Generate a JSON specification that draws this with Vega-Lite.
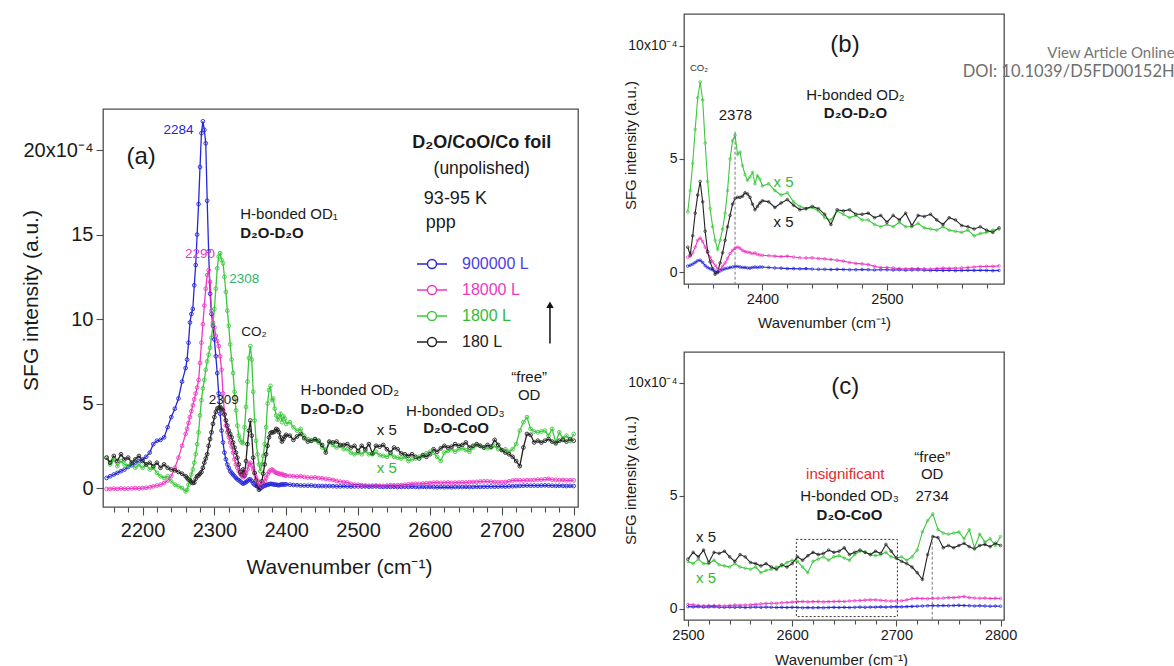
{
"$schema":"https://vega.github.io/schema/vega-lite/v6.json",
"background":"white",
"padding":{"left":19,"top":13,"right":0,"bottom":0},
"datasets":{"spec":[
{"w":2150,"900000 L":0.6,"18000 L":-0.05,"1800 L":1.8,"180 L":1.8},
{"w":2155,"900000 L":0.7,"18000 L":-0.05,"1800 L":1.4,"180 L":1.5},
{"w":2160,"900000 L":0.8,"18000 L":-0.03,"1800 L":1.7,"180 L":1.9},
{"w":2165,"900000 L":0.9,"18000 L":-0.05,"1800 L":1.3,"180 L":1.6},
{"w":2170,"900000 L":1.0,"18000 L":-0.02,"1800 L":1.6,"180 L":2.0},
{"w":2175,"900000 L":1.1,"18000 L":-0.04,"1800 L":1.4,"180 L":1.7},
{"w":2180,"900000 L":1.25,"18000 L":-0.03,"1800 L":1.3,"180 L":1.8},
{"w":2185,"900000 L":1.35,"18000 L":-0.02,"1800 L":1.5,"180 L":1.5},
{"w":2190,"900000 L":1.5,"18000 L":0.0,"1800 L":1.2,"180 L":1.7},
{"w":2195,"900000 L":1.6,"18000 L":-0.02,"1800 L":1.4,"180 L":1.9},
{"w":2200,"900000 L":1.7,"18000 L":0.0,"1800 L":1.2,"180 L":1.6},
{"w":2205,"900000 L":1.85,"18000 L":0.02,"1800 L":1.4,"180 L":1.4},
{"w":2210,"900000 L":2.1,"18000 L":0.05,"1800 L":1.1,"180 L":1.5},
{"w":2215,"900000 L":2.6,"18000 L":0.1,"1800 L":1.2,"180 L":1.3},
{"w":2220,"900000 L":2.8,"18000 L":0.15,"1800 L":0.9,"180 L":1.5},
{"w":2225,"900000 L":2.85,"18000 L":0.2,"1800 L":0.7,"180 L":1.2},
{"w":2230,"900000 L":3.0,"18000 L":0.3,"1800 L":0.6,"180 L":1.4},
{"w":2235,"900000 L":3.6,"18000 L":0.45,"1800 L":0.7,"180 L":1.2},
{"w":2240,"900000 L":4.2,"18000 L":0.7,"1800 L":0.4,"180 L":1.1},
{"w":2245,"900000 L":4.7,"18000 L":1.2,"1800 L":0.2,"180 L":1.05},
{"w":2250,"900000 L":5.3,"18000 L":1.8,"1800 L":0.1,"180 L":0.95},
{"w":2255,"900000 L":6.3,"18000 L":2.5,"1800 L":0.0,"180 L":0.85},
{"w":2260,"900000 L":7.1,"18000 L":3.2,"1800 L":-0.2,"180 L":0.7},
{"w":2262,"900000 L":7.6,"18000 L":3.5,"1800 L":-0.1,"180 L":0.6},
{"w":2264,"900000 L":8.6,"18000 L":3.85,"1800 L":0.2,"180 L":0.5},
{"w":2266,"900000 L":9.8,"18000 L":4.2,"1800 L":0.5,"180 L":0.45},
{"w":2268,"900000 L":10.3,"18000 L":4.55,"1800 L":0.8,"180 L":0.35},
{"w":2270,"900000 L":10.6,"18000 L":4.9,"1800 L":1.1,"180 L":0.3},
{"w":2272,"900000 L":12.0,"18000 L":5.25,"1800 L":1.5,"180 L":0.32},
{"w":2274,"900000 L":13.2,"18000 L":5.6,"1800 L":2.0,"180 L":0.55},
{"w":2276,"900000 L":15.0,"18000 L":5.95,"1800 L":2.6,"180 L":0.7},
{"w":2278,"900000 L":16.8,"18000 L":6.4,"1800 L":3.3,"180 L":0.75},
{"w":2280,"900000 L":19.0,"18000 L":7.4,"1800 L":4.3,"180 L":0.85},
{"w":2282,"900000 L":21.0,"18000 L":8.6,"1800 L":5.2,"180 L":0.95},
{"w":2284,"900000 L":21.7,"18000 L":9.7,"1800 L":5.9,"180 L":1.2},
{"w":2286,"900000 L":21.2,"18000 L":10.8,"1800 L":6.4,"180 L":1.5},
{"w":2288,"900000 L":20.4,"18000 L":11.8,"1800 L":7.0,"180 L":1.75},
{"w":2290,"900000 L":17.0,"18000 L":12.6,"1800 L":7.5,"180 L":2.0},
{"w":2292,"900000 L":14.0,"18000 L":12.9,"1800 L":7.9,"180 L":2.5},
{"w":2294,"900000 L":11.5,"18000 L":12.2,"1800 L":8.3,"180 L":2.9},
{"w":2296,"900000 L":10.3,"18000 L":10.5,"1800 L":8.9,"180 L":3.3},
{"w":2298,"900000 L":9.6,"18000 L":9.8,"1800 L":9.7,"180 L":3.8},
{"w":2300,"900000 L":8.8,"18000 L":9.5,"1800 L":10.6,"180 L":4.2},
{"w":2302,"900000 L":7.8,"18000 L":9.0,"1800 L":11.8,"180 L":4.5},
{"w":2304,"900000 L":6.8,"18000 L":8.7,"1800 L":13.0,"180 L":4.7},
{"w":2306,"900000 L":5.6,"18000 L":8.4,"1800 L":13.7,"180 L":4.75},
{"w":2308,"900000 L":4.4,"18000 L":7.8,"1800 L":13.9,"180 L":4.8},
{"w":2310,"900000 L":3.4,"18000 L":7.0,"1800 L":13.5,"180 L":4.7},
{"w":2312,"900000 L":2.7,"18000 L":5.6,"1800 L":13.3,"180 L":4.6},
{"w":2314,"900000 L":2.1,"18000 L":4.4,"1800 L":12.5,"180 L":4.35},
{"w":2316,"900000 L":1.7,"18000 L":3.7,"1800 L":11.6,"180 L":4.0},
{"w":2318,"900000 L":1.4,"18000 L":3.3,"1800 L":10.5,"180 L":3.7},
{"w":2320,"900000 L":1.2,"18000 L":3.0,"1800 L":9.6,"180 L":3.4},
{"w":2322,"900000 L":1.0,"18000 L":2.7,"1800 L":8.5,"180 L":3.2},
{"w":2324,"900000 L":0.9,"18000 L":2.45,"1800 L":7.6,"180 L":3.0},
{"w":2326,"900000 L":0.8,"18000 L":2.1,"1800 L":6.8,"180 L":2.7},
{"w":2328,"900000 L":0.7,"18000 L":1.7,"1800 L":5.7,"180 L":2.4},
{"w":2330,"900000 L":0.6,"18000 L":1.4,"1800 L":4.6,"180 L":2.1},
{"w":2332,"900000 L":0.52,"18000 L":1.2,"1800 L":3.7,"180 L":1.8},
{"w":2334,"900000 L":0.46,"18000 L":1.0,"1800 L":3.1,"180 L":1.4},
{"w":2336,"900000 L":0.4,"18000 L":0.85,"1800 L":2.85,"180 L":0.95},
{"w":2338,"900000 L":0.32,"18000 L":0.72,"1800 L":2.7,"180 L":0.8},
{"w":2340,"900000 L":0.26,"18000 L":0.65,"1800 L":2.65,"180 L":1.1},
{"w":2342,"900000 L":0.3,"18000 L":0.7,"1800 L":3.6,"180 L":0.75},
{"w":2344,"900000 L":0.35,"18000 L":0.85,"1800 L":4.8,"180 L":1.6},
{"w":2346,"900000 L":0.42,"18000 L":1.1,"1800 L":6.3,"180 L":2.6},
{"w":2348,"900000 L":0.5,"18000 L":1.4,"1800 L":7.7,"180 L":3.4},
{"w":2350,"900000 L":0.52,"18000 L":1.5,"1800 L":8.4,"180 L":4.0},
{"w":2352,"900000 L":0.42,"18000 L":1.35,"1800 L":7.6,"180 L":3.1},
{"w":2354,"900000 L":0.28,"18000 L":1.1,"1800 L":5.7,"180 L":1.8},
{"w":2356,"900000 L":0.2,"18000 L":0.85,"1800 L":4.0,"180 L":0.9},
{"w":2358,"900000 L":0.14,"18000 L":0.65,"1800 L":2.8,"180 L":0.45},
{"w":2360,"900000 L":0.1,"18000 L":0.45,"1800 L":2.0,"180 L":0.15},
{"w":2362,"900000 L":0.03,"18000 L":0.3,"1800 L":1.4,"180 L":-0.1},
{"w":2364,"900000 L":-0.03,"18000 L":0.15,"1800 L":1.0,"180 L":0.0},
{"w":2366,"900000 L":0.05,"18000 L":0.1,"1800 L":1.4,"180 L":0.4},
{"w":2368,"900000 L":0.1,"18000 L":0.25,"1800 L":1.9,"180 L":0.85},
{"w":2370,"900000 L":0.14,"18000 L":0.4,"1800 L":2.6,"180 L":1.4},
{"w":2372,"900000 L":0.17,"18000 L":0.6,"1800 L":3.6,"180 L":2.0},
{"w":2374,"900000 L":0.2,"18000 L":0.82,"1800 L":5.0,"180 L":2.5},
{"w":2376,"900000 L":0.22,"18000 L":0.95,"1800 L":5.8,"180 L":3.0},
{"w":2378,"900000 L":0.25,"18000 L":1.05,"1800 L":6.05,"180 L":3.25},
{"w":2380,"900000 L":0.24,"18000 L":1.1,"1800 L":5.2,"180 L":3.3},
{"w":2382,"900000 L":0.22,"18000 L":1.05,"1800 L":5.3,"180 L":3.3},
{"w":2384,"900000 L":0.2,"18000 L":0.95,"1800 L":4.7,"180 L":3.35},
{"w":2386,"900000 L":0.2,"18000 L":0.9,"1800 L":4.3,"180 L":3.5},
{"w":2388,"900000 L":0.18,"18000 L":0.88,"1800 L":4.05,"180 L":3.45},
{"w":2390,"900000 L":0.17,"18000 L":0.85,"1800 L":4.2,"180 L":3.3},
{"w":2392,"900000 L":0.2,"18000 L":0.82,"1800 L":4.4,"180 L":3.0},
{"w":2394,"900000 L":0.22,"18000 L":0.84,"1800 L":3.9,"180 L":2.75},
{"w":2396,"900000 L":0.2,"18000 L":0.78,"1800 L":4.25,"180 L":2.9},
{"w":2398,"900000 L":0.22,"18000 L":0.75,"1800 L":4.1,"180 L":3.05},
{"w":2400,"900000 L":0.22,"18000 L":0.74,"1800 L":3.8,"180 L":3.15},
{"w":2405,"900000 L":0.2,"18000 L":0.72,"1800 L":3.9,"180 L":3.1},
{"w":2410,"900000 L":0.18,"18000 L":0.7,"1800 L":3.6,"180 L":2.85},
{"w":2415,"900000 L":0.17,"18000 L":0.68,"1800 L":3.4,"180 L":3.05},
{"w":2420,"900000 L":0.15,"18000 L":0.7,"1800 L":3.5,"180 L":3.2},
{"w":2425,"900000 L":0.15,"18000 L":0.66,"1800 L":3.1,"180 L":2.95},
{"w":2430,"900000 L":0.14,"18000 L":0.63,"1800 L":2.9,"180 L":2.75},
{"w":2435,"900000 L":0.15,"18000 L":0.62,"1800 L":2.8,"180 L":2.8},
{"w":2440,"900000 L":0.13,"18000 L":0.63,"1800 L":2.85,"180 L":2.9},
{"w":2445,"900000 L":0.12,"18000 L":0.6,"1800 L":2.7,"180 L":2.8},
{"w":2450,"900000 L":0.12,"18000 L":0.58,"1800 L":2.4,"180 L":2.55},
{"w":2455,"900000 L":0.11,"18000 L":0.55,"1800 L":2.3,"180 L":2.1},
{"w":2460,"900000 L":0.12,"18000 L":0.52,"1800 L":2.7,"180 L":2.75},
{"w":2465,"900000 L":0.11,"18000 L":0.48,"1800 L":2.55,"180 L":2.7},
{"w":2470,"900000 L":0.1,"18000 L":0.42,"1800 L":2.4,"180 L":2.75},
{"w":2475,"900000 L":0.1,"18000 L":0.38,"1800 L":2.5,"180 L":2.55},
{"w":2480,"900000 L":0.11,"18000 L":0.36,"1800 L":2.3,"180 L":2.55},
{"w":2485,"900000 L":0.1,"18000 L":0.33,"1800 L":2.3,"180 L":2.6},
{"w":2490,"900000 L":0.09,"18000 L":0.25,"1800 L":2.1,"180 L":2.4},
{"w":2495,"900000 L":0.1,"18000 L":0.2,"1800 L":2.0,"180 L":2.5},
{"w":2500,"900000 L":0.1,"18000 L":0.2,"1800 L":2.1,"180 L":2.2},
{"w":2505,"900000 L":0.09,"18000 L":0.18,"1800 L":2.0,"180 L":2.5},
{"w":2510,"900000 L":0.1,"18000 L":0.15,"1800 L":2.2,"180 L":2.3},
{"w":2515,"900000 L":0.08,"18000 L":0.14,"1800 L":2.0,"180 L":2.6},
{"w":2520,"900000 L":0.09,"18000 L":0.15,"1800 L":2.0,"180 L":2.05},
{"w":2525,"900000 L":0.1,"18000 L":0.15,"1800 L":2.15,"180 L":2.5},
{"w":2530,"900000 L":0.08,"18000 L":0.14,"1800 L":1.95,"180 L":2.45},
{"w":2535,"900000 L":0.07,"18000 L":0.13,"1800 L":1.9,"180 L":2.55},
{"w":2540,"900000 L":0.08,"18000 L":0.15,"1800 L":1.85,"180 L":2.3},
{"w":2545,"900000 L":0.07,"18000 L":0.17,"1800 L":2.0,"180 L":2.1},
{"w":2550,"900000 L":0.08,"18000 L":0.16,"1800 L":1.85,"180 L":2.4},
{"w":2555,"900000 L":0.06,"18000 L":0.17,"1800 L":1.8,"180 L":2.3},
{"w":2560,"900000 L":0.07,"18000 L":0.18,"1800 L":1.75,"180 L":2.05},
{"w":2565,"900000 L":0.08,"18000 L":0.2,"1800 L":1.85,"180 L":2.0},
{"w":2570,"900000 L":0.07,"18000 L":0.22,"1800 L":1.6,"180 L":1.9},
{"w":2575,"900000 L":0.08,"18000 L":0.24,"1800 L":1.7,"180 L":2.0},
{"w":2580,"900000 L":0.07,"18000 L":0.25,"1800 L":1.75,"180 L":1.85},
{"w":2585,"900000 L":0.06,"18000 L":0.25,"1800 L":1.85,"180 L":1.75},
{"w":2590,"900000 L":0.07,"18000 L":0.27,"1800 L":1.9,"180 L":1.95},
{"w":2595,"900000 L":0.06,"18000 L":0.28,"1800 L":2.05,"180 L":1.85},
{"w":2600,"900000 L":0.07,"18000 L":0.3,"1800 L":2.15,"180 L":2.0},
{"w":2605,"900000 L":0.06,"18000 L":0.32,"1800 L":2.1,"180 L":2.3},
{"w":2610,"900000 L":0.05,"18000 L":0.33,"1800 L":1.85,"180 L":2.15},
{"w":2615,"900000 L":0.06,"18000 L":0.31,"1800 L":1.6,"180 L":2.35},
{"w":2620,"900000 L":0.05,"18000 L":0.32,"1800 L":2.1,"180 L":2.5},
{"w":2625,"900000 L":0.06,"18000 L":0.33,"1800 L":2.2,"180 L":2.4},
{"w":2630,"900000 L":0.05,"18000 L":0.31,"1800 L":2.3,"180 L":2.45},
{"w":2635,"900000 L":0.06,"18000 L":0.32,"1800 L":2.15,"180 L":2.6},
{"w":2640,"900000 L":0.07,"18000 L":0.33,"1800 L":2.3,"180 L":2.5},
{"w":2645,"900000 L":0.06,"18000 L":0.34,"1800 L":2.35,"180 L":2.55},
{"w":2650,"900000 L":0.07,"18000 L":0.33,"1800 L":2.25,"180 L":2.7},
{"w":2655,"900000 L":0.06,"18000 L":0.35,"1800 L":2.15,"180 L":2.4},
{"w":2660,"900000 L":0.07,"18000 L":0.36,"1800 L":2.4,"180 L":2.5},
{"w":2665,"900000 L":0.08,"18000 L":0.37,"1800 L":2.55,"180 L":2.6},
{"w":2670,"900000 L":0.07,"18000 L":0.39,"1800 L":2.5,"180 L":2.5},
{"w":2675,"900000 L":0.08,"18000 L":0.4,"1800 L":2.4,"180 L":2.4},
{"w":2680,"900000 L":0.08,"18000 L":0.4,"1800 L":2.35,"180 L":2.55},
{"w":2685,"900000 L":0.09,"18000 L":0.38,"1800 L":2.4,"180 L":2.45},
{"w":2690,"900000 L":0.08,"18000 L":0.36,"1800 L":2.5,"180 L":2.85},
{"w":2695,"900000 L":0.09,"18000 L":0.35,"1800 L":2.3,"180 L":2.55},
{"w":2700,"900000 L":0.1,"18000 L":0.35,"1800 L":2.25,"180 L":2.25},
{"w":2705,"900000 L":0.09,"18000 L":0.36,"1800 L":2.3,"180 L":2.1},
{"w":2710,"900000 L":0.1,"18000 L":0.4,"1800 L":2.15,"180 L":2.0},
{"w":2715,"900000 L":0.11,"18000 L":0.45,"1800 L":2.3,"180 L":1.85},
{"w":2720,"900000 L":0.12,"18000 L":0.47,"1800 L":2.6,"180 L":1.6},
{"w":2725,"900000 L":0.13,"18000 L":0.46,"1800 L":3.4,"180 L":1.3},
{"w":2730,"900000 L":0.14,"18000 L":0.45,"1800 L":3.9,"180 L":2.4},
{"w":2735,"900000 L":0.15,"18000 L":0.47,"1800 L":4.2,"180 L":3.2},
{"w":2740,"900000 L":0.14,"18000 L":0.47,"1800 L":3.5,"180 L":3.15},
{"w":2745,"900000 L":0.15,"18000 L":0.48,"1800 L":3.35,"180 L":2.7},
{"w":2750,"900000 L":0.14,"18000 L":0.5,"1800 L":3.3,"180 L":2.8},
{"w":2755,"900000 L":0.15,"18000 L":0.5,"1800 L":3.35,"180 L":2.7},
{"w":2760,"900000 L":0.16,"18000 L":0.52,"1800 L":3.4,"180 L":2.8},
{"w":2765,"900000 L":0.15,"18000 L":0.55,"1800 L":3.1,"180 L":2.9},
{"w":2770,"900000 L":0.14,"18000 L":0.5,"1800 L":3.5,"180 L":2.75},
{"w":2775,"900000 L":0.13,"18000 L":0.48,"1800 L":2.7,"180 L":2.65},
{"w":2780,"900000 L":0.14,"18000 L":0.47,"1800 L":3.3,"180 L":2.8},
{"w":2785,"900000 L":0.13,"18000 L":0.48,"1800 L":2.95,"180 L":2.85},
{"w":2790,"900000 L":0.12,"18000 L":0.46,"1800 L":3.1,"180 L":2.75},
{"w":2795,"900000 L":0.13,"18000 L":0.47,"1800 L":2.8,"180 L":2.9},
{"w":2800,"900000 L":0.12,"18000 L":0.46,"1800 L":3.2,"180 L":2.8}
]},
"spacing":25,
"bounds":"full",
"align":"none",
"resolve":{"scale":{"color":"independent"},"legend":{"color":"independent"}},
"hconcat":[
{"vconcat":[
 {"width":475,"height":75,"view":{"stroke":null},"data":{"values":[{"t":""}]},"mark":{"type":"text"},"encoding":{"text":{"field":"t"}}},
 {"width":475,"height":398,
  "encoding":{
   "x":{"field":"w","type":"quantitative","scale":{"domain":[2145,2806],"nice":false,"zero":false},
        "axis":{"values":[2160,2180,2200,2220,2240,2260,2280,2300,2320,2340,2360,2380,2400,2420,2440,2460,2480,2500,2520,2540,2560,2580,2600,2620,2640,2660,2680,2700,2720,2740,2760,2780,2800],
                "format":"d","labelExpr":"datum.value % 100 === 0 ? datum.label : ''",
                "tickSize":{"condition":{"test":"datum.value % 100 === 0","value":8},"value":5},
                "labelFontSize":20,"labelPadding":5,
                "title":"Wavenumber (cm⁻¹)","titleFontSize":21,"titleX":236,"titleY":60,"titleBaseline":"middle","titleAlign":"center"}},
   "y":{"field":"v","type":"quantitative","scale":{"domain":[-1.12,22.43],"nice":false,"zero":false},
        "axis":{"values":[0,5,10,15,20],"labelExpr":"datum.value === 20 ? '20x10⁻⁴' : datum.label",
                "tickSize":7,"labelFontSize":20,"labelPadding":3,
                "title":"SFG intensity (a.u.)","titleFontSize":21,"titleX":-72,"titleY":191,"titleAngle":-90,"titleAlign":"center","titleBaseline":"middle"}}
  },
  "layer":[
   {"data":{"name":"spec"},"transform":[{"fold":["900000 L","18000 L","1800 L","180 L"],"as":["s","v"]}],
    "mark":{"type":"line","strokeWidth":1.3},
    "encoding":{"color":{"field":"s","type":"nominal","scale":{"domain":["900000 L","18000 L","1800 L","180 L"],"range":["#2626d9","#ee38c4","#3cc83c","#222222"]},
      "legend":{"title":null,"orient":"none","legendX":313,"legendY":139,"padding":0,
        "symbolType":"M-1,0H-0.3M0.3,0H1M0.3,0A0.3,0.3,0,1,1,-0.3,0A0.3,0.3,0,1,1,0.3,0",
        "symbolSize":900,"symbolStrokeWidth":1.4,"symbolFillColor":"transparent",
        "labelFontSize":16,"labelFont":"Liberation Sans","labelOffset":14,"rowPadding":2,
        "encode":{"labels":{"update":{"fill":{"signal":"datum.value === '900000 L' ? '#4a3fe6' : datum.value === '18000 L' ? '#ee38c4' : datum.value === '1800 L' ? '#33bb33' : '#222222'"}}}}}}}},
   {"data":{"name":"spec"},"transform":[{"fold":["900000 L","18000 L","1800 L","180 L"],"as":["s","v"]}],
    "mark":{"type":"point","filled":false,"size":14,"strokeWidth":0.9,"opacity":1},
    "encoding":{"color":{"field":"s","type":"nominal","scale":{"domain":["900000 L","18000 L","1800 L","180 L"],"range":["#2626d9","#ee38c4","#3cc83c","#222222"]},
      "legend":{"title":null,"orient":"none","legendX":313,"legendY":139,"padding":0,
        "symbolType":"M-1,0H-0.3M0.3,0H1M0.3,0A0.3,0.3,0,1,1,-0.3,0A0.3,0.3,0,1,1,0.3,0",
        "symbolSize":900,"symbolStrokeWidth":1.4,"symbolFillColor":"transparent",
        "labelFontSize":16,"labelFont":"Liberation Sans","labelOffset":14,"rowPadding":2,
        "encode":{"labels":{"update":{"fill":{"signal":"datum.value === '900000 L' ? '#4a3fe6' : datum.value === '18000 L' ? '#ee38c4' : datum.value === '1800 L' ? '#33bb33' : '#222222'"}}}}}}}},
   {"data":{"values":[{"w":2198,"v":19.6,"t":"(a)"}]},"mark":{"type":"text","fontSize":24,"align":"center","baseline":"middle"},"encoding":{"text":{"field":"t"}}},
   {"data":{"values":[{"w":2250,"v":21.2,"t":"2284"}]},"mark":{"type":"text","fontSize":13.5,"align":"center","baseline":"middle","color":"#2626d9"},"encoding":{"text":{"field":"t"}}},
   {"data":{"values":[{"w":2280,"v":13.85,"t":"2290"}]},"mark":{"type":"text","fontSize":13.5,"align":"center","baseline":"middle","color":"#ee38c4"},"encoding":{"text":{"field":"t"}}},
   {"data":{"values":[{"w":2341.6,"v":12.4,"t":"2308"}]},"mark":{"type":"text","fontSize":13.5,"align":"center","baseline":"middle","color":"#2fb36b"},"encoding":{"text":{"field":"t"}}},
   {"data":{"values":[{"w":2355,"v":9.25,"t":"CO₂"},{"w":2313,"v":5.2,"t":"2309"}]},"mark":{"type":"text","fontSize":13.5,"align":"center","baseline":"middle"},"encoding":{"text":{"field":"t"}}},
   {"data":{"values":[{"w":2336,"v":16.2,"t":"H-bonded OD₁"},{"w":2420,"v":5.83,"t":"H-bonded OD₂"},{"w":2566.6,"v":4.55,"t":"H-bonded OD₃"}]},"mark":{"type":"text","fontSize":15,"align":"left","baseline":"middle"},"encoding":{"text":{"field":"t"}}},
   {"data":{"values":[{"w":2336,"v":15.07,"t":"D₂O-D₂O"},{"w":2420,"v":4.68,"t":"D₂O-D₂O"},{"w":2590.5,"v":3.56,"t":"D₂O-CoO"}]},"mark":{"type":"text","fontSize":15,"fontWeight":"bold","align":"left","baseline":"middle"},"encoding":{"text":{"field":"t"}}},
   {"data":{"values":[{"w":2540,"v":3.42,"t":"x 5"},{"w":2738,"v":6.6,"t":"“free”"},{"w":2738,"v":5.53,"t":"OD"}]},"mark":{"type":"text","fontSize":15,"align":"center","baseline":"middle"},"encoding":{"text":{"field":"t"}}},
   {"data":{"values":[{"w":2540,"v":1.19,"t":"x 5"}]},"mark":{"type":"text","fontSize":15,"align":"center","baseline":"middle","color":"#33bb33"},"encoding":{"text":{"field":"t"}}},
   {"data":{"values":[{"w":2672,"v":20.4,"t":"D₂O/CoO/Co foil"}]},"mark":{"type":"text","fontSize":18,"fontWeight":"bold","align":"center","baseline":"middle"},"encoding":{"text":{"field":"t"}}},
   {"data":{"values":[{"w":2672,"v":18.9,"t":"(unpolished)"}]},"mark":{"type":"text","fontSize":17.5,"align":"center","baseline":"middle"},"encoding":{"text":{"field":"t"}}},
   {"data":{"values":[{"w":2591.5,"v":17.1,"t":"93-95 K"},{"w":2594,"v":15.66,"t":"ppp"}]},"mark":{"type":"text","fontSize":18,"align":"left","baseline":"middle"},"encoding":{"text":{"field":"t"}}},
   {"data":{"values":[{"w":2767,"v":8.56,"v2":10.9}]},"mark":{"type":"rule","strokeWidth":1.5,"color":"#111111"},"encoding":{"y2":{"field":"v2"}}},
   {"data":{"values":[{"w":2767,"v":10.85}]},"mark":{"type":"point","shape":"triangle-up","filled":true,"size":55,"color":"#111111","opacity":1},"encoding":{}}
  ]}
 ],"spacing":20,"bounds":"flush","resolve":{"scale":{"color":"independent"},"legend":{"color":"independent"}}},
{"vconcat":[
 {"width":320,"height":270,
  "encoding":{
   "x":{"field":"w","type":"quantitative","scale":{"domain":[2337,2594],"nice":false,"zero":false},
        "axis":{"values":[2340,2360,2380,2400,2420,2440,2460,2480,2500,2520,2540,2560,2580],
                "format":"d","labelExpr":"datum.value % 100 === 0 ? datum.label : ''",
                "tickSize":{"condition":{"test":"datum.value % 100 === 0","value":6},"value":4},
                "labelFontSize":14.5,"labelPadding":2,
                "title":"Wavenumber (cm⁻¹)","titleFontSize":15,"titleX":140,"titleY":38,"titleBaseline":"middle","titleAlign":"center"}},
   "y":{"field":"v","type":"quantitative","scale":{"domain":[-0.53,11.4],"nice":false,"zero":false},
        "axis":{"values":[0,5,10],"labelExpr":"datum.value === 10 ? '10x10⁻⁴' : datum.label",
                "tickSize":5,"labelFontSize":14,"labelPadding":2,
                "title":"SFG intensity (a.u.)","titleFontSize":15,"titleX":-54,"titleY":131,"titleAngle":-90,"titleAlign":"center","titleBaseline":"middle"}}
  },
  "layer":[
   {"data":{"name":"spec"},"transform":[{"filter":"datum.w >= 2340 && datum.w <= 2590"},{"fold":["900000 L","18000 L","1800 L","180 L"],"as":["s","v"]}],
    "mark":{"type":"line","strokeWidth":1.1},
    "encoding":{"color":{"field":"s","type":"nominal","scale":{"domain":["900000 L","18000 L","1800 L","180 L"],"range":["#2626d9","#ee38c4","#3cc83c","#222222"]},"legend":null}}},
   {"data":{"name":"spec"},"transform":[{"filter":"datum.w >= 2340 && datum.w <= 2590"},{"fold":["900000 L","18000 L","1800 L","180 L"],"as":["s","v"]}],
    "mark":{"type":"point","filled":false,"size":7,"strokeWidth":0.7,"opacity":1},
    "encoding":{"color":{"field":"s","type":"nominal","scale":{"domain":["900000 L","18000 L","1800 L","180 L"],"range":["#2626d9","#ee38c4","#3cc83c","#222222"]},"legend":null}}},
   {"data":{"values":[{"w":2378,"v":6.2,"v2":-0.53}]},"mark":{"type":"rule","strokeWidth":1,"color":"#777777","strokeDash":[3,2]},"encoding":{"y2":{"field":"v2"}}},
   {"data":{"values":[{"w":2466.3,"v":10.03,"t":"(b)"}]},"mark":{"type":"text","fontSize":24,"align":"center","baseline":"middle"},"encoding":{"text":{"field":"t"}}},
   {"data":{"values":[{"w":2349,"v":9.0,"t":"CO₂"}]},"mark":{"type":"text","fontSize":9.5,"align":"center","baseline":"middle","color":"#333333"},"encoding":{"text":{"field":"t"}}},
   {"data":{"values":[{"w":2378.3,"v":6.94,"t":"2378"},{"w":2474.7,"v":7.82,"t":"H-bonded OD₂"},{"w":2417,"v":2.22,"t":"x 5"}]},"mark":{"type":"text","fontSize":15,"align":"center","baseline":"middle"},"encoding":{"text":{"field":"t"}}},
   {"data":{"values":[{"w":2474.7,"v":7.04,"t":"D₂O-D₂O"}]},"mark":{"type":"text","fontSize":15,"fontWeight":"bold","align":"center","baseline":"middle"},"encoding":{"text":{"field":"t"}}},
   {"data":{"values":[{"w":2417,"v":3.99,"t":"x 5"}]},"mark":{"type":"text","fontSize":15,"align":"center","baseline":"middle","color":"#33bb33"},"encoding":{"text":{"field":"t"}}},
   {"data":{"values":[{"w":2731,"v":9.66,"t":"View Article Online"}]},"mark":{"type":"text","font":"Lato","fontSize":15,"align":"right","baseline":"middle","color":"#777777"},"encoding":{"text":{"field":"t"}}},
   {"data":{"values":[{"w":2731,"v":8.85,"t":"DOI: 10.1039/D5FD00152H"}]},"mark":{"type":"text","font":"Lato","fontSize":16.5,"align":"right","baseline":"middle","color":"#6e6e6e"},"encoding":{"text":{"field":"t"}}}
  ]},
 {"width":320,"height":268,
  "encoding":{
   "x":{"field":"w","type":"quantitative","scale":{"domain":[2496.2,2803.3],"nice":false,"zero":false},
        "axis":{"values":[2500,2520,2540,2560,2580,2600,2620,2640,2660,2680,2700,2720,2740,2760,2780,2800],
                "format":"d","labelExpr":"datum.value % 100 === 0 ? datum.label : ''",
                "tickSize":{"condition":{"test":"datum.value % 100 === 0","value":6},"value":4},
                "labelFontSize":14.5,"labelPadding":2,
                "title":"Wavenumber (cm⁻¹)","titleFontSize":15,"titleX":157,"titleY":39,"titleBaseline":"middle","titleAlign":"center"}},
   "y":{"field":"v","type":"quantitative","scale":{"domain":[-0.49,11.35],"nice":false,"zero":false},
        "axis":{"values":[0,5,10],"labelExpr":"datum.value === 10 ? '10x10⁻⁴' : datum.label",
                "tickSize":5,"labelFontSize":14,"labelPadding":2,
                "title":"SFG intensity (a.u.)","titleFontSize":15,"titleX":-54,"titleY":128,"titleAngle":-90,"titleAlign":"center","titleBaseline":"middle"}}
  },
  "layer":[
   {"data":{"name":"spec"},"transform":[{"filter":"datum.w >= 2500"},{"fold":["900000 L","18000 L","1800 L","180 L"],"as":["s","v"]}],
    "mark":{"type":"line","strokeWidth":1.1},
    "encoding":{"color":{"field":"s","type":"nominal","scale":{"domain":["900000 L","18000 L","1800 L","180 L"],"range":["#2626d9","#ee38c4","#3cc83c","#222222"]},"legend":null}}},
   {"data":{"name":"spec"},"transform":[{"filter":"datum.w >= 2500"},{"fold":["900000 L","18000 L","1800 L","180 L"],"as":["s","v"]}],
    "mark":{"type":"point","filled":false,"size":7,"strokeWidth":0.7,"opacity":1},
    "encoding":{"color":{"field":"s","type":"nominal","scale":{"domain":["900000 L","18000 L","1800 L","180 L"],"range":["#2626d9","#ee38c4","#3cc83c","#222222"]},"legend":null}}},
   {"data":{"values":[{"w":2604,"w2":2701,"v":-0.34,"v2":3.07}]},"mark":{"type":"rect","fill":null,"fillOpacity":0,"stroke":"#333333","strokeWidth":1,"strokeDash":[2,2]},"encoding":{"x2":{"field":"w2"},"y2":{"field":"v2"}}},
   {"data":{"values":[{"w":2734.4,"v":3.19,"v2":-0.49}]},"mark":{"type":"rule","strokeWidth":1,"color":"#777777","strokeDash":[3,2]},"encoding":{"y2":{"field":"v2"}}},
   {"data":{"values":[{"w":2651,"v":9.8,"t":"(c)"}]},"mark":{"type":"text","fontSize":24,"align":"center","baseline":"middle"},"encoding":{"text":{"field":"t"}}},
   {"data":{"values":[{"w":2651,"v":5.98,"t":"insignificant"}]},"mark":{"type":"text","fontSize":15,"align":"center","baseline":"middle","color":"#e8282b"},"encoding":{"text":{"field":"t"}}},
   {"data":{"values":[{"w":2655,"v":4.98,"t":"H-bonded OD₃"},{"w":2734.4,"v":6.72,"t":"“free”"},{"w":2734.4,"v":5.94,"t":"OD"},{"w":2734.4,"v":4.98,"t":"2734"},{"w":2517.4,"v":3.19,"t":"x 5"}]},"mark":{"type":"text","fontSize":15,"align":"center","baseline":"middle"},"encoding":{"text":{"field":"t"}}},
   {"data":{"values":[{"w":2655,"v":4.15,"t":"D₂O-CoO"}]},"mark":{"type":"text","fontSize":15,"fontWeight":"bold","align":"center","baseline":"middle"},"encoding":{"text":{"field":"t"}}},
   {"data":{"values":[{"w":2517.4,"v":1.35,"t":"x 5"}]},"mark":{"type":"text","fontSize":15,"align":"center","baseline":"middle","color":"#33bb33"},"encoding":{"text":{"field":"t"}}}
  ]}
 ],"spacing":68,"bounds":"flush","resolve":{"scale":{"color":"independent"},"legend":{"color":"independent"}}}
],
"config":{
 "view":{"stroke":"#4d4d4d","strokeWidth":1.3},
 "axis":{"grid":false,"domain":false,"labelFont":"Liberation Sans","titleFont":"Liberation Sans","labelColor":"#1a1a1a","titleColor":"#1a1a1a","titleFontWeight":"normal","tickColor":"#4d4d4d","tickWidth":1.1,"labelOverlap":false,"labelFlush":false},
 "text":{"font":"Liberation Sans","color":"#1a1a1a"},
 "legend":{"labelFont":"Liberation Sans","rowPadding":2}
}
}
